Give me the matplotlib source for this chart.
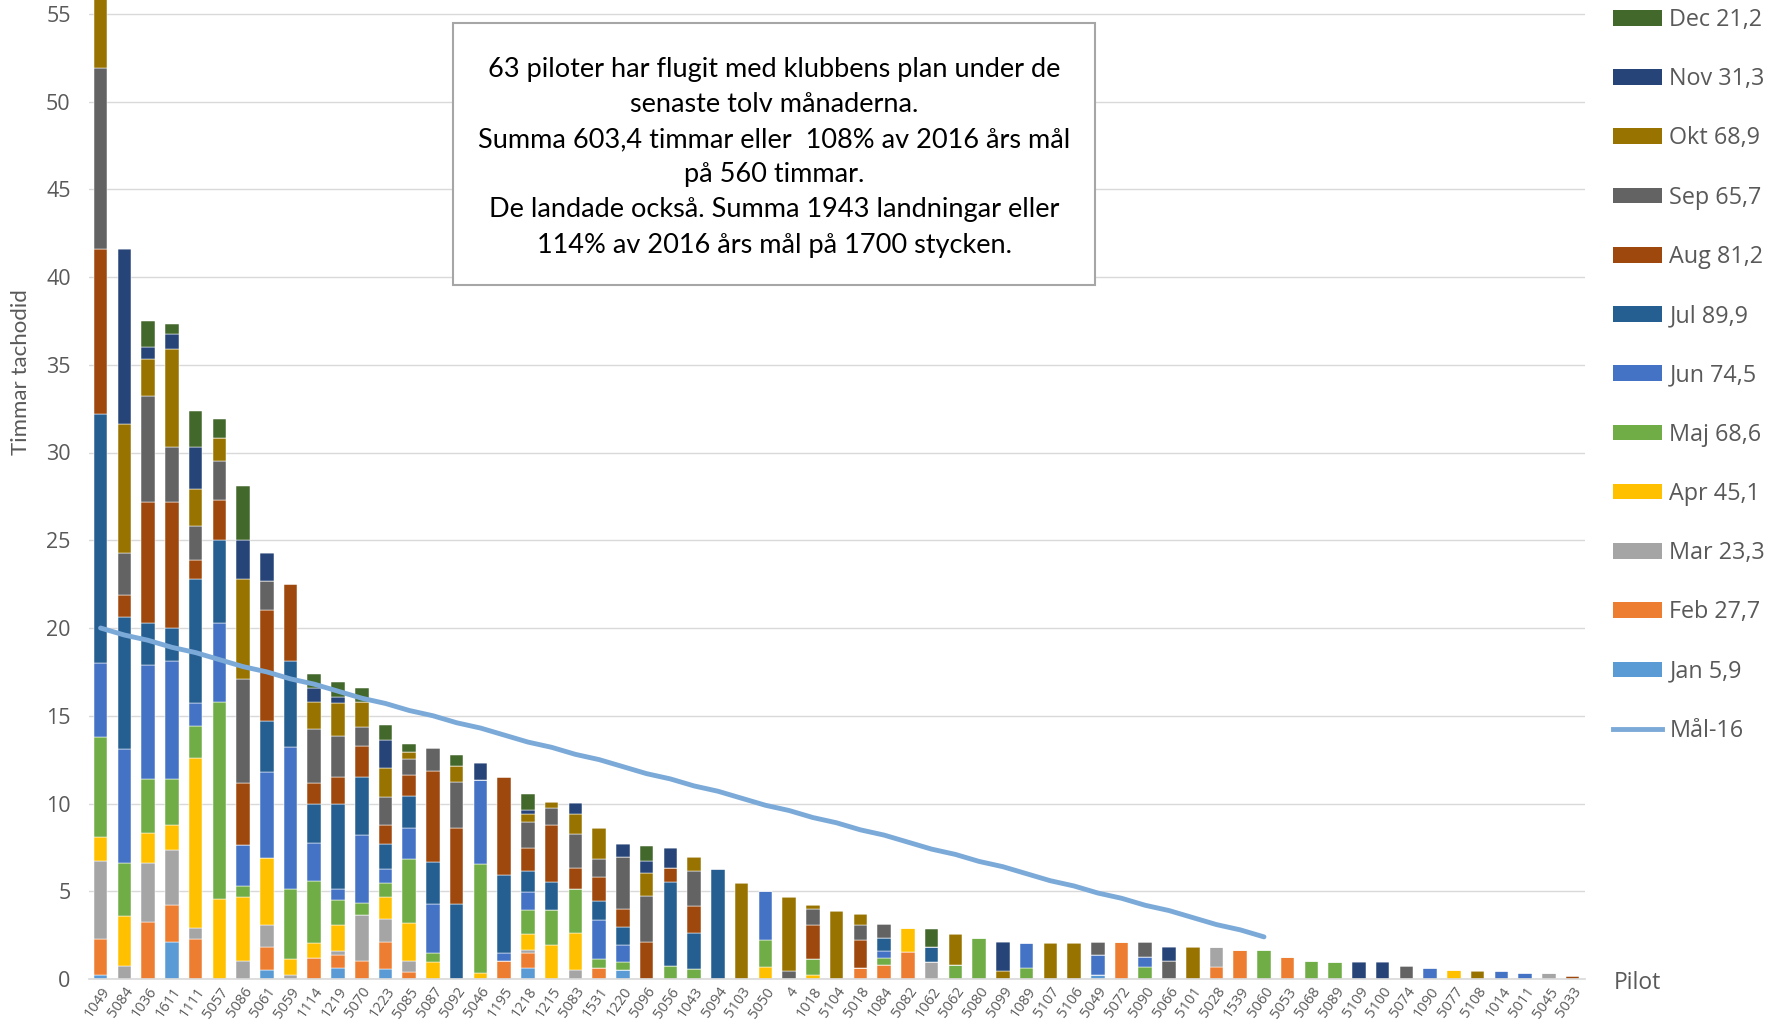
import numpy as np
import matplotlib
matplotlib.use("Agg")
import matplotlib.pyplot as plt
from matplotlib.patches import Rectangle, Patch
from matplotlib.lines import Line2D

pilots = ["1049", "5084", "1036", "1611", "1111", "5057", "5086", "5061", "5059", "1114",
          "1219", "5070", "1223", "5085", "5087", "5092", "5046", "1195", "1218", "1215",
          "5083", "1531", "1220", "5096", "5056", "1043", "5094", "5103", "5050", "4",
          "1018", "5104", "5018", "1084", "5082", "1062", "5062", "5080", "5099", "1089",
          "5107", "5106", "5049", "5072", "5090", "5066", "5101", "5028", "1539", "5060",
          "5053", "5068", "5089", "5109", "5100", "5074", "1090", "5077", "5108", "1014",
          "5011", "5045", "5033"]

months = ["Jan", "Feb", "Mar", "Apr", "Maj", "Jun", "Jul", "Aug", "Sep", "Okt", "Nov", "Dec"]
month_totals = ["5,9", "27,7", "23,3", "45,1", "68,6", "74,5", "89,9", "81,2", "65,7", "68,9", "31,3", "21,2"]

jan = [0.2, 0, 0, 2.1, 0, 0, 0, 0.5, 0, 0,
       0.65, 0, 0.55, 0, 0, 0, 0, 0, 0.65, 0,
       0, 0, 0.5, 0, 0, 0, 0, 0, 0, 0,
       0, 0, 0, 0, 0, 0, 0, 0, 0, 0,
       0, 0, 0.25, 0, 0, 0, 0, 0, 0, 0,
       0, 0, 0, 0, 0, 0, 0, 0, 0, 0,
       0, 0, 0]
feb = [2.1, 0, 3.25, 2.1, 2.3, 0, 0, 1.3, 0, 1.2,
       0.7, 1.0, 1.55, 0.4, 0, 0, 0, 1.0, 0.85, 0,
       0, 0.65, 0, 0, 0, 0, 0, 0, 0, 0,
       0, 0, 0.65, 0.8, 1.55, 0, 0, 0, 0, 0,
       0, 0, 0, 2.1, 0, 0, 0, 0.7, 1.65, 0,
       1.25, 0, 0, 0, 0, 0, 0, 0, 0, 0,
       0, 0, 0]
mar = [4.4, 0.75, 3.35, 3.15, 0.6, 0, 1.0, 1.3, 0.25, 0,
       0.25, 2.65, 1.3, 0.6, 0, 0, 0, 0, 0.15, 0,
       0.5, 0, 0, 0, 0, 0, 0, 0, 0, 0,
       0, 0, 0, 0, 0, 0.95, 0, 0, 0, 0,
       0, 0, 0, 0, 0, 0, 0, 1.15, 0, 0,
       0, 0, 0, 0, 0, 0, 0, 0, 0, 0,
       0, 0.35, 0]
apr = [1.4, 2.85, 1.7, 1.45, 9.7, 4.55, 3.7, 3.8, 0.9, 0.85,
       1.45, 0, 1.25, 2.2, 0.95, 0, 0.35, 0, 0.9, 1.95,
       2.1, 0, 0, 0, 0, 0, 0, 0, 0.7, 0,
       0.25, 0, 0, 0, 1.35, 0, 0, 0, 0, 0,
       0, 0, 0, 0, 0, 0, 0, 0, 0, 0,
       0, 0, 0, 0, 0, 0, 0, 0.5, 0, 0,
       0, 0, 0]
maj = [5.7, 3.0, 3.1, 2.6, 1.8, 11.25, 0.6, 0, 3.95, 3.55,
       1.45, 0.7, 0.8, 3.65, 0.55, 0, 6.2, 0, 1.4, 2.0,
       2.5, 0.5, 0.45, 0, 0.75, 0.55, 0, 0, 1.55, 0,
       0.9, 0, 0, 0.4, 0, 0, 0.8, 2.35, 0, 0.65,
       0, 0, 0, 0, 0.7, 0, 0, 0, 0, 1.65,
       0, 1.05, 0.95, 0, 0, 0, 0, 0, 0, 0,
       0, 0, 0]
jun = [4.2, 6.5, 6.5, 6.7, 1.3, 4.5, 2.35, 4.9, 8.1, 2.15,
       0.6, 3.85, 0.8, 1.75, 2.75, 0, 4.8, 0.5, 1.0, 0,
       0, 2.2, 1.0, 0, 0, 0, 0, 0, 2.75, 0,
       0, 0, 0, 0.4, 0, 0, 0, 0, 0, 1.4,
       0, 0, 1.1, 0, 0.55, 0, 0, 0, 0, 0,
       0, 0, 0, 0, 0, 0, 0.65, 0, 0, 0.45,
       0.35, 0, 0]
jul = [14.2, 7.5, 2.4, 1.9, 7.1, 4.7, 0, 2.9, 4.9, 2.2,
       4.85, 3.3, 1.45, 1.8, 2.4, 4.25, 0, 4.4, 1.2, 1.6,
       0, 1.1, 1.0, 0, 4.8, 2.05, 6.25, 0, 0, 0,
       0, 0, 0, 0.75, 0, 0.9, 0, 0, 0, 0,
       0, 0, 0, 0, 0, 0, 0, 0, 0, 0,
       0, 0, 0, 0, 0, 0, 0, 0, 0, 0,
       0, 0, 0]
aug = [9.4, 1.3, 6.9, 7.2, 1.1, 2.3, 3.5, 6.3, 4.4, 1.2,
       1.55, 1.8, 1.1, 1.25, 5.2, 4.35, 0, 5.6, 1.3, 3.2,
       1.25, 1.35, 1.05, 2.1, 0.8, 1.55, 0, 0, 0, 0,
       1.9, 0, 1.6, 0, 0, 0, 0, 0, 0, 0,
       0, 0, 0, 0, 0, 0, 0, 0, 0, 0,
       0, 0, 0, 0, 0, 0, 0, 0, 0, 0,
       0, 0, 0.15]
sep = [10.3, 2.4, 6.0, 3.1, 1.9, 2.2, 5.95, 1.7, 0, 3.1,
       2.35, 1.05, 1.55, 0.9, 1.3, 2.6, 0, 0, 1.5, 1.0,
       1.9, 1.05, 2.95, 2.65, 0, 2.0, 0, 0, 0, 0.45,
       0.95, 0, 0.85, 0.8, 0, 0, 0, 0, 0, 0,
       0, 0, 0.75, 0, 0.85, 1.05, 0, 0, 0, 0,
       0, 0, 0, 0, 0, 0.75, 0, 0, 0, 0,
       0, 0, 0]
okt = [8.0, 7.3, 2.1, 5.6, 2.1, 1.3, 5.7, 0, 0, 1.55,
       1.85, 1.45, 1.65, 0.4, 0, 0.95, 0, 0, 0.45, 0.35,
       1.15, 1.75, 0, 1.3, 0, 0.8, 0, 5.45, 0, 4.25,
       0.2, 3.9, 0.6, 0, 0, 0, 1.75, 0, 0.45, 0,
       2.05, 2.05, 0, 0, 0, 0, 1.85, 0, 0, 0,
       0, 0, 0, 0, 0, 0, 0, 0, 0.45, 0,
       0, 0, 0]
nov = [2.0, 10.0, 0.7, 0.85, 2.4, 0, 2.2, 1.6, 0, 0.8,
       0.35, 0, 1.6, 0, 0, 0, 0.95, 0, 0.25, 0,
       0.65, 0, 0.75, 0.65, 1.1, 0, 0, 0, 0, 0,
       0, 0, 0, 0, 0, 0, 0, 0, 1.65, 0,
       0, 0, 0, 0, 0, 0.8, 0, 0, 0, 0,
       0, 0, 0, 0.95, 0.95, 0, 0, 0, 0, 0,
       0, 0, 0]
dec = [5.5, 0, 1.5, 0.55, 2.05, 1.1, 3.1, 0, 0, 0.8,
       0.85, 0.8, 0.9, 0.45, 0, 0.6, 0, 0, 0.9, 0,
       0, 0, 0, 0.9, 0, 0, 0, 0, 0, 0,
       0, 0, 0, 0, 0, 1.0, 0, 0, 0, 0,
       0, 0, 0, 0, 0, 0, 0, 0, 0, 0,
       0, 0, 0, 0, 0, 0, 0, 0, 0, 0,
       0, 0, 0]

goal = [20.0, 19.6, 19.3, 18.9, 18.6, 18.2, 17.8, 17.5, 17.1, 16.8,
        16.4, 16.0, 15.7, 15.3, 15.0, 14.6, 14.3, 13.9, 13.5, 13.2,
        12.8, 12.5, 12.1, 11.7, 11.4, 11.0, 10.7, 10.3, 9.9, 9.6,
        9.2, 8.9, 8.5, 8.2, 7.8, 7.4, 7.1, 6.7, 6.4, 6.0,
        5.6, 5.3, 4.9, 4.6, 4.2, 3.9, 3.5, 3.1, 2.8, 2.4]

series = [jan, feb, mar, apr, maj, jun, jul, aug, sep, okt, nov, dec]
colors = ["#5B9BD5", "#ED7D31", "#A5A5A5", "#FFC000", "#70AD47", "#4472C4",
          "#255E91", "#9E480E", "#636363", "#997300", "#264478", "#43682B"]
goal_color = "#7BAAD9"
txt_color = "#595959"
tick_font = ["Open Sans", "DejaVu Sans"]

W, H = 1792, 1028
fig = plt.figure(figsize=(W / 100, H / 100), dpi=100)
ax_left, ax_right = 88.7, 1584.5
ax_y0 = 979
ax = fig.add_axes([ax_left / W, (H - ax_y0) / H, (ax_right - ax_left) / W, ax_y0 / H])

x = np.arange(len(pilots))
bottom = np.zeros(len(pilots))
handles = []
for vals, c, m, t in zip(series, colors, months, month_totals):
    v = np.array(vals, dtype=float)
    ax.bar(x, v, 0.57, bottom=bottom, color=c, edgecolor="white", linewidth=0.35, zorder=2)
    bottom += v
    handles.append(Patch(facecolor=c, edgecolor="none", label=f"{m} {t}"))

ax.plot(x[:len(goal)], goal, color=goal_color, lw=3.5, solid_capstyle="round", zorder=3)

ax.set_xlim(-0.5, len(pilots) - 0.5)
ax.set_ylim(0, ax_y0 / 17.55)
ax.set_yticks(np.arange(0, 56, 5))
ax.yaxis.grid(True, color="#D9D9D9", lw=1.0, zorder=0)
ax.set_axisbelow(True)
for s in ["top", "right", "left"]:
    ax.spines[s].set_visible(False)
ax.spines["bottom"].set_color("#D9D9D9")
ax.spines["bottom"].set_linewidth(1.2)
ax.tick_params(axis="both", length=0)
ax.tick_params(axis="y", pad=13, labelsize=15.5, labelcolor=txt_color)
ax.set_xticks(x)
ax.set_xticklabels(pilots, rotation=55, ha="right", va="top", rotation_mode="anchor",
                   fontsize=10.5, color=txt_color, family=tick_font)
ax.tick_params(axis="x", pad=4)
for lab in ax.get_yticklabels():
    lab.set_family(tick_font)

# Legend
leg_handles = handles[::-1] + [Line2D([0], [0], color=goal_color, lw=3.5, label="Mål-16")]
leg = fig.legend(handles=leg_handles, loc="upper left", bbox_to_anchor=(1613 / W, 1 - 8 / H),
                 frameon=False, labelspacing=1.51, handlelength=2.1,
                 handleheight=0.65, handletextpad=0.32, borderpad=0, borderaxespad=0,
                 prop={"family": tick_font, "size": 16.8})
for t in leg.get_texts():
    t.set_color(txt_color)

fig.text(1614 / W, 1 - 983 / H, "Pilot", fontsize=16.5, color=txt_color, family=tick_font,
         ha="left", va="center")
fig.text(21 / W, 1 - 372 / H, "Timmar tachodid", rotation=90, fontsize=16, color=txt_color,
         family=["Lato", "DejaVu Sans"], ha="center", va="center")

# Annotation box
bx0, bx1, by0, by1 = 453, 1095, 23, 285
fig.patches.append(Rectangle((bx0 / W, 1 - by1 / H), (bx1 - bx0) / W, (by1 - by0) / H,
                             transform=fig.transFigure, facecolor="white",
                             edgecolor="#A6A6A6", lw=1.5, zorder=5))
box_text = ("63 piloter har flugit med klubbens plan under de\n"
            "senaste tolv månaderna.\n"
            "Summa 603,4 timmar eller  108% av 2016 års mål\n"
            "på 560 timmar.\n"
            "De landade också. Summa 1943 landningar eller\n"
            "114% av 2016 års mål på 1700 stycken.")
fig.text(774 / W, 1 - 157 / H, box_text, ha="center", va="center", fontsize=19.5,
         linespacing=1.51, color="#000000", family=["Lato", "DejaVu Sans"], zorder=6)

fig.savefig("out.png", dpi=100)
